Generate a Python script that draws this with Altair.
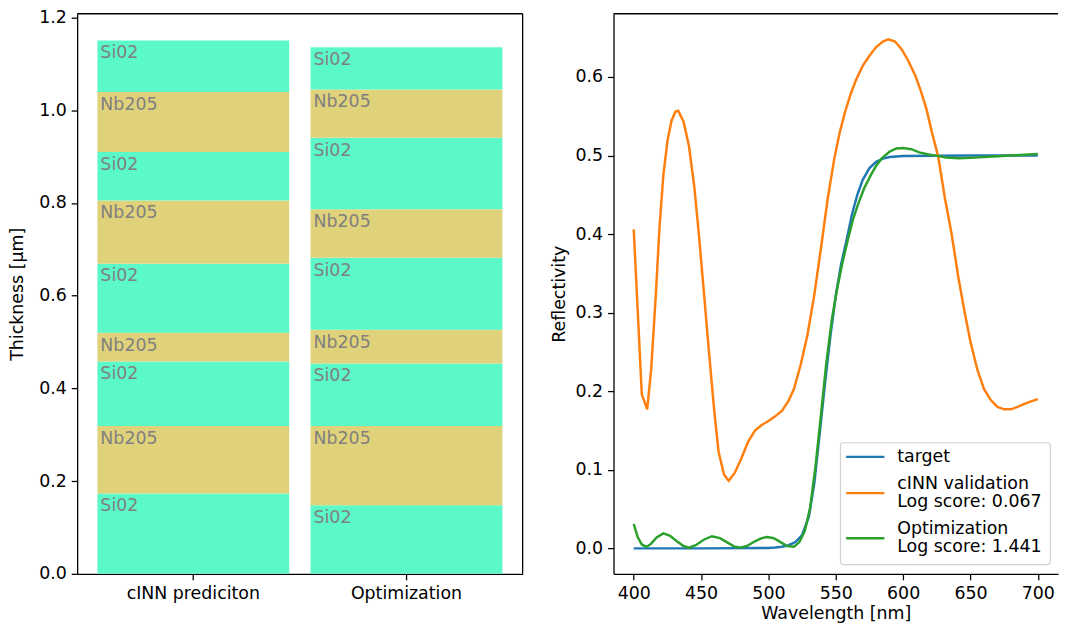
import altair as alt
import pandas as pd

# ---------------- data ----------------
stack_names = ["cINN prediciton", "Optimization"]
layer_materials = ["Si02", "Nb205", "Si02", "Nb205", "Si02", "Nb205", "Si02", "Nb205", "Si02"]
cinn_thickness = [0.173, 0.146, 0.139, 0.062, 0.149, 0.136, 0.105, 0.129, 0.1115]
opt_thickness = [0.148, 0.171, 0.1345, 0.073, 0.155, 0.105, 0.154, 0.104, 0.091]
material_names = ["Si02", "Nb205"]
material_colors = ["#5BF9C8", "#E0D27A"]

target_wl = [400, 450, 500, 505, 510, 515, 520, 525, 530, 534, 538, 542, 546, 550, 554,
             558, 562, 566, 570, 575, 580, 585, 590, 600, 650, 700]
target_r = [0.0, 0.0, 0.0005, 0.001, 0.002, 0.004, 0.008, 0.017, 0.040, 0.082, 0.145, 0.210,
            0.270, 0.322, 0.362, 0.392, 0.425, 0.450, 0.469, 0.484, 0.492, 0.496, 0.498,
            0.4995, 0.5, 0.5]

cinn_wl = [400, 406, 410, 413, 416.5, 419, 422, 425, 428, 431, 433, 437, 441, 445, 448.5,
           452, 455.5, 459.5, 463, 467, 470.5, 475, 480, 485, 490, 495, 500, 505, 510, 515,
           519, 524, 529, 534, 539, 544, 549, 553, 557, 561, 565, 570, 575, 580, 585, 589,
           594, 599, 604, 609, 613, 617.5, 621, 626, 631, 636, 641, 645.5, 650, 655, 660,
           665, 670, 675, 680, 685, 690, 695, 700]
cinn_r = [0.406, 0.196, 0.177, 0.229, 0.325, 0.405, 0.475, 0.518, 0.544, 0.556, 0.557, 0.543,
          0.512, 0.460, 0.397, 0.328, 0.257, 0.180, 0.123, 0.094, 0.086, 0.096, 0.115, 0.136,
          0.150, 0.157, 0.162, 0.168, 0.175, 0.188, 0.203, 0.234, 0.272, 0.322, 0.382, 0.445,
          0.497, 0.530, 0.556, 0.578, 0.596, 0.614, 0.627, 0.638, 0.645, 0.648, 0.645, 0.635,
          0.620, 0.602, 0.583, 0.558, 0.532, 0.499, 0.446, 0.400, 0.345, 0.302, 0.263, 0.228,
          0.203, 0.189, 0.180, 0.177, 0.177, 0.180, 0.184, 0.187, 0.190]

opt_wl = [400, 403, 406, 409.5, 413, 417, 422, 427, 432, 437, 441, 446, 452, 458, 464, 470,
          475, 479, 484, 490, 495, 499, 504, 509, 514, 519, 523, 527, 531, 535, 539, 543, 547,
          551, 555, 559, 563, 567, 571, 576, 580, 584, 590, 595, 600, 606, 612, 618, 625, 632,
          641, 650, 660, 670, 680, 690, 700]
opt_r = [0.031, 0.014, 0.005, 0.002, 0.006, 0.014, 0.019, 0.016, 0.009, 0.003, 0.001, 0.004,
         0.011, 0.0155, 0.013, 0.007, 0.002, 0.001, 0.003, 0.009, 0.013, 0.0145, 0.013, 0.008,
         0.003, 0.002, 0.008, 0.022, 0.052, 0.105, 0.170, 0.236, 0.290, 0.330, 0.364, 0.393,
         0.420, 0.440, 0.458, 0.475, 0.487, 0.496, 0.505, 0.509, 0.5095, 0.508, 0.504, 0.5015,
         0.4995, 0.4975, 0.4966, 0.497, 0.498, 0.499, 0.500, 0.501, 0.502]

series_names = ["target", "cINN validation", "Optimization"]
series_colors = ["#1f77b4", "#ff7f0e", "#2ca02c"]
legend_lines = [["target"],
                ["cINN validation", "Log score: 0.067"],
                ["Optimization", "Log score: 1.441"]]

thick_ticks = [0.0, 0.2, 0.4, 0.6, 0.8, 1.0, 1.2]
refl_ticks = [0.0, 0.1, 0.2, 0.3, 0.4, 0.5, 0.6]
wl_ticks = [400, 450, 500, 550, 600, 650, 700]

# ---------------- layout constants ----------------
LW, RW, H = 451, 450, 567
FONT = "DejaVu Sans"
FS = 17.6
SPINE = 1.3

dummy = pd.DataFrame({"k": [0]})

# ---------------- left panel: layer stacks ----------------
rows = []
for stack, th in zip(stack_names, [cinn_thickness, opt_thickness]):
    for i, (m, t) in enumerate(zip(layer_materials, th)):
        rows.append({"stack": stack, "layer": i, "material": m, "thickness": t})
layers_df = pd.DataFrame(rows)

base = alt.Chart(layers_df).transform_stack(
    stack="thickness", groupby=["stack"], as_=["y0", "y1"],
    sort=[alt.SortField("layer", order="ascending")],
)

xscale = alt.Scale(domain=stack_names, paddingInner=0.1, paddingOuter=0.095)
yscale_l = alt.Scale(domain=[0, 1.208], nice=False, zero=False)

bars = base.mark_bar().encode(
    x=alt.X("stack:N", sort=stack_names, scale=xscale,
            axis=alt.Axis(title=None, labelAngle=0)),
    y=alt.Y("y0:Q", scale=yscale_l,
            axis=alt.Axis(title="Thickness [μm]", values=thick_ticks, format=".1f",
                          titlePadding=11.9)),
    y2="y1:Q",
    color=alt.Color("material:N", scale=alt.Scale(domain=material_names, range=material_colors),
                    legend=None),
)

labels = base.mark_text(align="left", baseline="alphabetic", dx=3, dy=18, fontSize=FS,
                        font=FONT, color="#808080").encode(
    x=alt.X("stack:N", sort=stack_names, scale=xscale, bandPosition=0),
    y=alt.Y("y1:Q", scale=yscale_l),
    text="material:N",
)

l_top = alt.Chart(dummy).mark_rule(color="black", strokeWidth=SPINE).encode(
    x=alt.value(0), x2=alt.value(LW), y=alt.value(0))
l_right = alt.Chart(dummy).mark_rule(color="black", strokeWidth=SPINE).encode(
    x=alt.value(LW), y=alt.value(0), y2=alt.value(H))

left = alt.layer(bars, labels, l_top, l_right).properties(width=LW, height=H)

# ---------------- right panel: reflectivity ----------------
xq = alt.X("wl:Q", scale=alt.Scale(domain=[385, 715], nice=False, zero=False),
           axis=alt.Axis(title="Wavelength [nm]", values=wl_ticks, format="d",
                         titlePadding=3))
yq = alt.Y("r:Q", scale=alt.Scale(domain=[-0.0324, 0.6804], nice=False, zero=False),
           axis=alt.Axis(title="Reflectivity", values=refl_ticks, format=".1f",
                         titlePadding=6.9))

line_layers = []
for name, color, wl, r in zip(series_names, series_colors,
                              [target_wl, cinn_wl, opt_wl], [target_r, cinn_r, opt_r]):
    df = pd.DataFrame({"wl": wl, "r": r, "series": name})
    line_layers.append(
        alt.Chart(df).mark_line(color=color, strokeWidth=2.5).encode(x=xq, y=yq)
    )

r_top = alt.Chart(dummy).mark_rule(color="black", strokeWidth=SPINE).encode(
    x=alt.value(0), x2=alt.value(RW), y=alt.value(0))

# legend (drawn by hand, anchored at the lower right of the plot)
bx1, by1 = RW - 7.8, H - 9.4
bx0, by0 = bx1 - 212.4, by1 - 123.3
legend_box = alt.Chart(dummy).mark_rect(
    fill="white", fillOpacity=0.8, stroke="#d0d0d0", strokeWidth=1.2, cornerRadius=3
).encode(x=alt.value(bx0), x2=alt.value(bx1), y=alt.value(by0), y2=alt.value(by1))

legend_layers = [legend_box]
first_line_y = [14.3, 42.0, 87.6]
LINE_H = 18
for color, lines, fy in zip(series_colors, legend_lines, first_line_y):
    hy = by0 + fy + (len(lines) - 1) * LINE_H / 2
    legend_layers.append(
        alt.Chart(dummy).mark_rule(color=color, strokeWidth=2.5).encode(
            x=alt.value(bx0 + 5.7), x2=alt.value(bx0 + 44.4), y=alt.value(hy))
    )
    for j, txt in enumerate(lines):
        legend_layers.append(
            alt.Chart(dummy).mark_text(align="left", baseline="middle", fontSize=FS,
                                       font=FONT, color="black").encode(
                x=alt.value(bx0 + 57.4), y=alt.value(by0 + fy + j * LINE_H),
                text=alt.value(txt))
        )

right = alt.layer(*line_layers, r_top, *legend_layers).properties(width=RW, height=H)

chart = alt.hconcat(left, right, spacing=25).properties(
    padding={"left": 0, "top": -4, "right": 0, "bottom": 0},
    background="white",
).configure_view(stroke="transparent").configure_axis(
    labelFont=FONT, titleFont=FONT, labelFontSize=FS, titleFontSize=FS,
    titleFontWeight="normal", labelColor="black", titleColor="black",
    tickColor="black", domainColor="black", tickSize=6, tickWidth=SPINE,
    domainWidth=SPINE, labelPadding=5, grid=False,
)

chart.save("out.html", embed_options={"renderer": "svg", "actions": False})
